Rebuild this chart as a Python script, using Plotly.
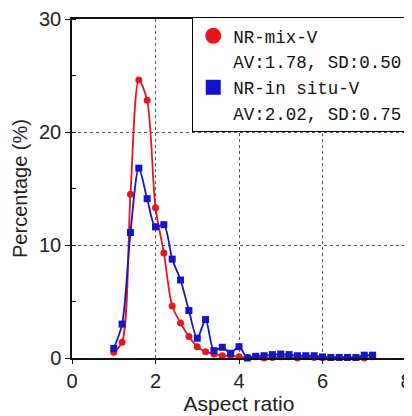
import plotly.graph_objects as go

# ---- data ----
aspect_ratio = [1.0, 1.2, 1.4, 1.6, 1.8, 2.0, 2.2, 2.4, 2.6, 2.8, 3.0, 3.2, 3.4, 3.6, 3.8, 4.0,
                4.2, 4.4, 4.6, 4.8, 5.0, 5.2, 5.4, 5.6, 5.8, 6.0, 6.2, 6.4, 6.6, 6.8, 7.0, 7.2]
nr_mix_v = [0.5, 1.4, 14.5, 24.6, 22.8, 13.3, 9.3, 4.6, 3.1, 1.9, 1.0, 0.55, 0.35, 0.2, 0.2, 0.1,
            0.05, 0.1, 0.0, 0.05, 0.1, 0.1, 0.0, 0.1, 0.05, 0.05, 0.05, 0.05, 0.05, 0.05, 0.0, 0.1]
nr_insitu_v = [0.85, 3.0, 11.1, 16.8, 14.1, 11.6, 11.8, 8.75, 6.9, 4.2, 1.75, 3.4, 0.65, 0.95, 0.42, 1.0,
               0.0, 0.15, 0.2, 0.3, 0.35, 0.3, 0.2, 0.2, 0.2, 0.1, 0.05, 0.05, 0.05, 0.05, 0.25, 0.25]

series_names = ["NR-mix-V", "NR-in situ-V"]
series_stats = ["AV:1.78, SD:0.50", "AV:2.02, SD:0.75"]
x_ticks = [0, 2, 4, 6, 8]
y_ticks = [0, 10, 20, 30]

RED = "#e8161b"
BLUE = "#1414c8"

fig = go.Figure()

# data traces
fig.add_trace(go.Scatter(x=aspect_ratio, y=nr_mix_v, mode="lines+markers",
                         line=dict(color=RED, width=1.8, shape="spline", smoothing=0.8),
                         marker=dict(symbol="circle", size=7, color=RED),
                         showlegend=False, cliponaxis=False))
fig.add_trace(go.Scatter(x=aspect_ratio, y=nr_insitu_v, mode="lines+markers",
                         line=dict(color=BLUE, width=1.8, shape="spline", smoothing=0.8),
                         marker=dict(symbol="square", size=7, color=BLUE),
                         showlegend=False, cliponaxis=False))

# legend entries
fig.add_trace(go.Scatter(x=[None], y=[None], mode="markers", name=series_names[0],
                         legendgroup="mix",
                         marker=dict(symbol="circle", size=16, color=RED)))
fig.add_trace(go.Scatter(x=[None], y=[None], mode="markers", name=series_stats[0],
                         legendgroup="mix",
                         marker=dict(symbol="circle", size=1, color="rgba(0,0,0,0)")))
fig.add_trace(go.Scatter(x=[None], y=[None], mode="markers", name=series_names[1],
                         legendgroup="insitu",
                         marker=dict(symbol="square", size=15, color=BLUE)))
fig.add_trace(go.Scatter(x=[None], y=[None], mode="markers", name=series_stats[1],
                         legendgroup="insitu",
                         marker=dict(symbol="square", size=1, color="rgba(0,0,0,0)")))

axis_font = dict(family="Liberation Sans, Arial, sans-serif", size=20, color="#222222")
xtitle_font = dict(family="Liberation Sans, Arial, sans-serif", size=21, color="#222222")

# the page body adds an 8px offset, so the figure is sized to fit the 412x416 window
fig.update_layout(
    width=404, height=408,
    margin=dict(l=64, r=6, t=11, b=58, autoexpand=False),
    paper_bgcolor="white", plot_bgcolor="white",
    showlegend=True,
    legend=dict(x=0.36, y=1.006, xanchor="left", yanchor="top",
                bgcolor="white", bordercolor="black", borderwidth=1,
                font=dict(family="Liberation Mono, Courier New, monospace", size=17.5, color="#111111"),
                traceorder="grouped", itemwidth=30, tracegroupgap=0),
    xaxis=dict(range=[0, 8], tickvals=x_ticks, ticktext=[str(v) for v in x_ticks],
               showline=True, linecolor="#111111", linewidth=1.5, mirror=True,
               ticks="outside", ticklen=4, tickcolor="#111111",
               showgrid=True, gridcolor="#555555", griddash="dot", gridwidth=1,
               zeroline=False, tickfont=axis_font,
               title=dict(text="Aspect ratio", font=xtitle_font, standoff=3)),
    yaxis=dict(range=[0, 30], tickvals=y_ticks, ticktext=[str(v) for v in y_ticks],
               showline=True, linecolor="#111111", linewidth=1.5, mirror=True,
               ticks="outside", ticklen=5, tickcolor="#111111",
               minor=dict(dtick=5, ticks="inside", ticklen=4, tickcolor="#111111", showgrid=False),
               showgrid=True, gridcolor="#555555", griddash="dot", gridwidth=1,
               zeroline=False, tickfont=axis_font,
               title=dict(text="Percentage (%)", font=axis_font, standoff=6)),
)

fig.write_html("out.html")
